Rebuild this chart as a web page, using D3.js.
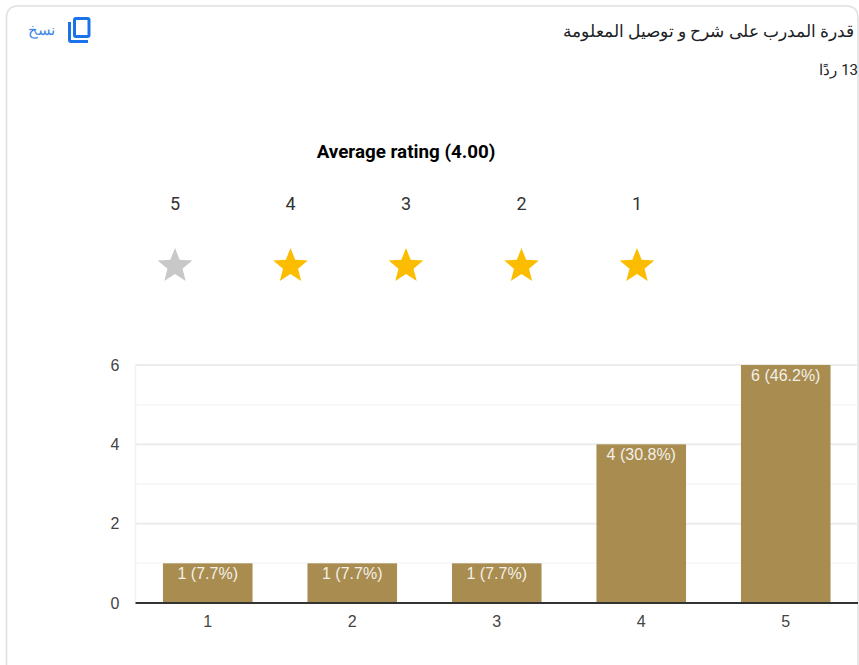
<!DOCTYPE html>
<html>
<head>
<meta charset="utf-8">
<script src="https://cdn.jsdelivr.net/npm/d3@7"></script>
<style>
  html, body { margin: 0; padding: 0; background: #fff; overflow: hidden; }
  .axis .domain, .axis .tick line { display: none; }
  .axis text { font-family: "Liberation Sans", Arial, sans-serif; font-size: 16px; fill: #444; }
</style>
</head>
<body>
<div id="chart"></div>
<script>
const questionTitle = "قدرة المدرب على شرح و توصيل المعلومة";
const responseLabel = "13 ردًا";
const copyLabel = "نسخ";
const ratingTitle = "Average rating (4.00)";

// rating row above the chart
const starLabels = ["5", "4", "3", "2", "1"];
const starFilled = [false, true, true, true, true];

// bars
const categories = ["1", "2", "3", "4", "5"];
const counts = [1, 1, 1, 4, 6];
const percents = ["7.7", "7.7", "7.7", "30.8", "46.2"];
const majorTicks = [0, 2, 4, 6];
const minorTicks = [1, 3, 5];

const pageWidth = 859;
const pageHeight = 665;
const plot = { left: 135.5, right: 858, top: 365, bottom: 603 };

const svg = d3
  .select("#chart")
  .append("svg")
  .attr("width", pageWidth)
  .attr("height", pageHeight)
  .style("display", "block");

// card outline, its right side runs off the screenshot
svg
  .append("path")
  .attr("d", "M6.5,665 V18 Q6.5,6 18.5,6 H846 Q858,6 858,18 V665")
  .attr("fill", "none")
  .attr("stroke", "#e0e0e0")
  .attr("stroke-width", 1.5);

// header, rtl text so "start" is its right edge
svg
  .append("text")
  .attr("x", 854)
  .attr("y", 37)
  .attr("text-anchor", "start")
  .attr("direction", "rtl")
  .style("font-family", "'Liberation Serif', serif")
  .style("font-size", "17px")
  .style("fill", "#202124")
  .text(questionTitle);

svg
  .append("text")
  .attr("x", 858)
  .attr("y", 75)
  .attr("text-anchor", "start")
  .attr("direction", "rtl")
  .style("font-family", "Roboto, sans-serif")
  .style("font-size", "15px")
  .style("fill", "#202124")
  .text(responseLabel);

svg
  .append("text")
  .attr("x", 28)
  .attr("y", 35)
  .style("font-family", "Roboto, sans-serif")
  .style("font-size", "14.5px")
  .style("fill", "#3b87e4")
  .text(copyLabel);

// copy icon
const icon = svg.append("g").attr("fill", "none").attr("stroke", "#1a73e8").attr("stroke-width", 3);
icon.append("rect").attr("x", 74.5).attr("y", 18.5).attr("width", 14.5).attr("height", 18).attr("rx", 1.5);
icon.append("path").attr("d", "M69.5,22 V40 Q69.5,41.5 71,41.5 H88");

// rating block
svg
  .append("text")
  .attr("x", 406)
  .attr("y", 158)
  .attr("text-anchor", "middle")
  .style("font-family", "Roboto, sans-serif")
  .style("font-weight", "700")
  .style("font-size", "18.8px")
  .style("fill", "#000")
  .text(ratingTitle);

const starScale = d3.scalePoint().domain(starLabels).range([175, 637]);

// symbolStar is too thin here, so draw a fatter five pointed one
const starOuter = 18.2;
const starInner = 7.9;
const starPath = d3
  .lineRadial()
  .angle((d) => (d * Math.PI) / 5)
  .radius((d) => (d % 2 ? starInner : starOuter))
  .curve(d3.curveLinearClosed)(d3.range(10));

svg
  .selectAll(".star-label")
  .data(starLabels)
  .enter()
  .append("text")
  .attr("class", "star-label")
  .attr("x", (d) => starScale(d))
  .attr("y", 210)
  .attr("text-anchor", "middle")
  .style("font-family", "Roboto, sans-serif")
  .style("font-size", "18px")
  .style("fill", "#333")
  .text((d) => d);

svg
  .selectAll(".star")
  .data(starLabels)
  .enter()
  .append("path")
  .attr("class", "star")
  .attr("d", starPath)
  .attr("transform", (d) => `translate(${starScale(d)}, 266.2)`)
  .attr("fill", (d, i) => (starFilled[i] ? "#fcbd00" : "#c8c8c8"));

// bar chart
const xScale = d3
  .scaleBand()
  .domain(categories)
  .range([plot.left, plot.right])
  .paddingInner(0.38)
  .paddingOuter(0.19);
const yScale = d3
  .scaleLinear()
  .domain([0, d3.max(majorTicks)])
  .range([plot.bottom, plot.top]);

svg
  .selectAll(".grid-minor")
  .data(minorTicks)
  .enter()
  .append("line")
  .attr("x1", plot.left)
  .attr("x2", plot.right)
  .attr("y1", (d) => yScale(d))
  .attr("y2", (d) => yScale(d))
  .attr("stroke", "#f6f6f6")
  .attr("stroke-width", 1.5);

svg
  .selectAll(".grid-major")
  .data(majorTicks.filter((d) => d > 0))
  .enter()
  .append("line")
  .attr("x1", plot.left)
  .attr("x2", plot.right)
  .attr("y1", (d) => yScale(d))
  .attr("y2", (d) => yScale(d))
  .attr("stroke", "#ececec")
  .attr("stroke-width", 2);

svg
  .append("line")
  .attr("x1", plot.left)
  .attr("x2", plot.left)
  .attr("y1", plot.top)
  .attr("y2", plot.bottom)
  .attr("stroke", "#f0f0f0")
  .attr("stroke-width", 1.5);

svg
  .append("g")
  .classed("axis", true)
  .attr("transform", `translate(${plot.left}, 0)`)
  .call(d3.axisLeft(yScale).tickValues(majorTicks).tickFormat(d3.format("d")).tickSize(0).tickPadding(16));

svg
  .append("g")
  .classed("axis", true)
  .attr("transform", `translate(0, ${plot.bottom})`)
  .call(d3.axisBottom(xScale).tickSize(0).tickPadding(13));

svg
  .selectAll(".bar")
  .data(categories)
  .enter()
  .append("rect")
  .attr("class", "bar")
  .attr("x", (d) => xScale(d))
  .attr("y", (d, i) => yScale(counts[i]))
  .attr("width", xScale.bandwidth())
  .attr("height", (d, i) => plot.bottom - yScale(counts[i]))
  .attr("fill", "#a88c50");

svg
  .selectAll(".bar-label")
  .data(categories)
  .enter()
  .append("text")
  .attr("class", "bar-label")
  .attr("x", (d) => xScale(d) + xScale.bandwidth() / 2)
  .attr("y", (d, i) => yScale(counts[i]) + 16)
  .attr("text-anchor", "middle")
  .style("font-family", "'Liberation Sans', Arial, sans-serif")
  .style("font-size", "16px")
  .style("fill", "#f3f0e8")
  .text((d, i) => `${counts[i]} (${percents[i]}%)`);

// baseline goes over the bars
svg
  .append("line")
  .attr("x1", plot.left)
  .attr("x2", plot.right)
  .attr("y1", yScale(0))
  .attr("y2", yScale(0))
  .attr("stroke", "#333")
  .attr("stroke-width", 2);
</script>
</body>
</html>
